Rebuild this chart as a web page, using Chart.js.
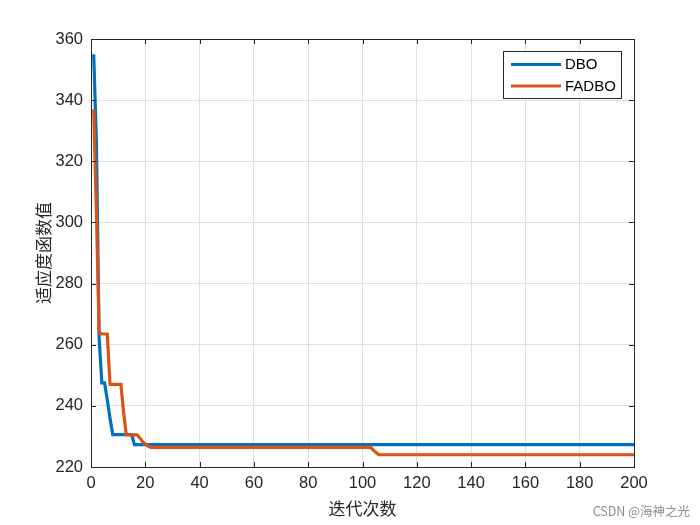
<!DOCTYPE html>
<html>
<head>
<meta charset="utf-8">
<script src="https://cdn.jsdelivr.net/npm/chart.js@4/dist/chart.umd.min.js"></script>
<style>
html,body{margin:0;padding:0;background:#ffffff;}
#wrap{width:700px;height:525px;position:relative;}
</style>
</head>
<body>
<div id="wrap"><canvas id="c" width="700" height="525"></canvas></div>
<script>
// ---- data ----
const seriesNames = ["DBO", "FADBO"];
const xTicks = [0, 20, 40, 60, 80, 100, 120, 140, 160, 180, 200];
const yTicks = [220, 240, 260, 280, 300, 320, 340, 360];
const xTitle = "迭代次数";
const yTitle = "适应度函数值";
const watermark = "CSDN @海神之光";

const dboValues = [
  355, 326, 262, 247.5, 247.5, 242, 236, 230.6, 230.6, 230.6,
  230.6, 230.6, 230.6, 230.6, 230.6, 227.3, 227.3, 227.3, 227.3, 227.3,
  227.3, 227.3, 227.3, 227.3, 227.3, 227.3, 227.3, 227.3, 227.3, 227.3,
  227.3, 227.3, 227.3, 227.3, 227.3, 227.3, 227.3, 227.3, 227.3, 227.3,
  227.3, 227.3, 227.3, 227.3, 227.3, 227.3, 227.3, 227.3, 227.3, 227.3,
  227.3, 227.3, 227.3, 227.3, 227.3, 227.3, 227.3, 227.3, 227.3, 227.3,
  227.3, 227.3, 227.3, 227.3, 227.3, 227.3, 227.3, 227.3, 227.3, 227.3,
  227.3, 227.3, 227.3, 227.3, 227.3, 227.3, 227.3, 227.3, 227.3, 227.3,
  227.3, 227.3, 227.3, 227.3, 227.3, 227.3, 227.3, 227.3, 227.3, 227.3,
  227.3, 227.3, 227.3, 227.3, 227.3, 227.3, 227.3, 227.3, 227.3, 227.3,
  227.3, 227.3, 227.3, 227.3, 227.3, 227.3, 227.3, 227.3, 227.3, 227.3,
  227.3, 227.3, 227.3, 227.3, 227.3, 227.3, 227.3, 227.3, 227.3, 227.3,
  227.3, 227.3, 227.3, 227.3, 227.3, 227.3, 227.3, 227.3, 227.3, 227.3,
  227.3, 227.3, 227.3, 227.3, 227.3, 227.3, 227.3, 227.3, 227.3, 227.3,
  227.3, 227.3, 227.3, 227.3, 227.3, 227.3, 227.3, 227.3, 227.3, 227.3,
  227.3, 227.3, 227.3, 227.3, 227.3, 227.3, 227.3, 227.3, 227.3, 227.3,
  227.3, 227.3, 227.3, 227.3, 227.3, 227.3, 227.3, 227.3, 227.3, 227.3,
  227.3, 227.3, 227.3, 227.3, 227.3, 227.3, 227.3, 227.3, 227.3, 227.3,
  227.3, 227.3, 227.3, 227.3, 227.3, 227.3, 227.3, 227.3, 227.3, 227.3,
  227.3, 227.3, 227.3, 227.3, 227.3, 227.3, 227.3, 227.3, 227.3, 227.3
];

const fadboValues = [
  337, 303, 264, 263.5, 263.5, 263.5, 247, 247, 247, 247,
  247, 238, 230.5, 230.5, 230.5, 230.5, 230.5, 229.5, 228.3, 227.5,
  226.8, 226.4, 226.4, 226.4, 226.4, 226.4, 226.4, 226.4, 226.4, 226.4,
  226.4, 226.4, 226.4, 226.4, 226.4, 226.4, 226.4, 226.4, 226.4, 226.4,
  226.4, 226.4, 226.4, 226.4, 226.4, 226.4, 226.4, 226.4, 226.4, 226.4,
  226.4, 226.4, 226.4, 226.4, 226.4, 226.4, 226.4, 226.4, 226.4, 226.4,
  226.4, 226.4, 226.4, 226.4, 226.4, 226.4, 226.4, 226.4, 226.4, 226.4,
  226.4, 226.4, 226.4, 226.4, 226.4, 226.4, 226.4, 226.4, 226.4, 226.4,
  226.4, 226.4, 226.4, 226.4, 226.4, 226.4, 226.4, 226.4, 226.4, 226.4,
  226.4, 226.4, 226.4, 226.4, 226.4, 226.4, 226.4, 226.4, 226.4, 226.4,
  226.4, 226.4, 226.4, 225.5, 224.7, 224, 224, 224, 224, 224,
  224, 224, 224, 224, 224, 224, 224, 224, 224, 224,
  224, 224, 224, 224, 224, 224, 224, 224, 224, 224,
  224, 224, 224, 224, 224, 224, 224, 224, 224, 224,
  224, 224, 224, 224, 224, 224, 224, 224, 224, 224,
  224, 224, 224, 224, 224, 224, 224, 224, 224, 224,
  224, 224, 224, 224, 224, 224, 224, 224, 224, 224,
  224, 224, 224, 224, 224, 224, 224, 224, 224, 224,
  224, 224, 224, 224, 224, 224, 224, 224, 224, 224,
  224, 224, 224, 224, 224, 224, 224, 224, 224, 224
];

// iteration index (1..N) for each value
const iterations = dboValues.map((_, i) => i + 1);

// ---- styles ----
const colors = ["#0072BD", "#D95319"];
const axisColor = "#262626";
const gridColor = "#dfdfdf";
const tickFont = { family: "'Liberation Sans', Arial, sans-serif", size: 16.5 };
const cjkFont = "'Noto Sans CJK SC', sans-serif";

const toPoints = vals => vals.map((v, i) => ({ x: iterations[i], y: v }));

const boxPlugin = {
  id: "box",
  afterDraw(chart) {
    const { ctx, chartArea: a, scales } = chart;
    ctx.save();
    // inward ticks on all four sides
    ctx.strokeStyle = axisColor;
    ctx.lineWidth = 1;
    const tl = 5;
    ctx.beginPath();
    xTicks.forEach(v => {
      const px = Math.round(scales.x.getPixelForValue(v)) + 0.5;
      ctx.moveTo(px, a.bottom); ctx.lineTo(px, a.bottom - tl);
      ctx.moveTo(px, a.top); ctx.lineTo(px, a.top + tl);
    });
    yTicks.forEach(v => {
      const py = Math.round(scales.y.getPixelForValue(v)) + 0.5;
      ctx.moveTo(a.left, py); ctx.lineTo(a.left + tl, py);
      ctx.moveTo(a.right, py); ctx.lineTo(a.right - tl, py);
    });
    ctx.stroke();
    // box
    ctx.strokeRect(Math.round(a.left) + 0.5, Math.round(a.top) + 0.5,
                   Math.round(a.right - a.left), Math.round(a.bottom - a.top));

    // legend
    const lx = 503.5, ly = 51.5, lw = 118, lh = 47;
    ctx.fillStyle = "#ffffff";
    ctx.fillRect(lx, ly, lw, lh);
    ctx.strokeStyle = axisColor;
    ctx.lineWidth = 1;
    ctx.strokeRect(lx, ly, lw, lh);
    const rows = [64.5, 86];
    ctx.font = "15px 'Liberation Sans', Arial, sans-serif";
    ctx.textBaseline = "middle";
    ctx.textAlign = "left";
    chart.data.datasets.forEach((ds, i) => {
      ctx.strokeStyle = ds.borderColor;
      ctx.lineWidth = 3.2;
      ctx.beginPath();
      ctx.moveTo(511, rows[i]); ctx.lineTo(561, rows[i]);
      ctx.stroke();
      ctx.fillStyle = "#000000";
      ctx.fillText(ds.label, 565, rows[i] + 0.5);
    });

    // watermark
    ctx.font = "12.5px " + cjkFont;
    ctx.fillStyle = "#8c8c8c";
    ctx.textAlign = "right";
    ctx.fillText(watermark, 690, 511);
    ctx.restore();
  }
};

new Chart(document.getElementById("c"), {
  type: "line",
  data: {
    datasets: [
      { label: seriesNames[0], data: toPoints(dboValues), borderColor: colors[0],
        backgroundColor: colors[0], borderWidth: 3.2, pointRadius: 0, tension: 0, order: 1 },
      { label: seriesNames[1], data: toPoints(fadboValues), borderColor: colors[1],
        backgroundColor: colors[1], borderWidth: 3.2, pointRadius: 0, tension: 0, order: 0 }
    ]
  },
  options: {
    responsive: false,
    devicePixelRatio: 1,
    animation: false,
    layout: { padding: { left: 0, top: 39, right: 66, bottom: 0 } },
    plugins: { legend: { display: false }, tooltip: { enabled: false } },
    scales: {
      x: {
        type: "linear", min: 0, max: 200,
        afterBuildTicks: s => { s.ticks = xTicks.map(v => ({ value: v })); },
        afterFit: s => { s.height = 58; },
        ticks: { font: tickFont, color: axisColor, padding: 7, maxRotation: 0, autoSkip: false },
        grid: { color: gridColor, drawTicks: false, lineWidth: 1 },
        border: { display: false },
        title: { display: true, text: xTitle, color: axisColor,
                 font: { family: cjkFont, size: 17 }, padding: { top: 0, bottom: 6 } }
      },
      y: {
        type: "linear", min: 220, max: 360,
        afterBuildTicks: s => { s.ticks = yTicks.map(v => ({ value: v })); },
        afterFit: s => { s.width = 91; },
        ticks: { font: tickFont, color: axisColor, padding: 8, autoSkip: false },
        grid: { color: gridColor, drawTicks: false, lineWidth: 1 },
        border: { display: false },
        title: { display: true, text: yTitle, color: axisColor,
                 font: { family: cjkFont, size: 17 }, padding: { top: 33, bottom: 0 } }
      }
    }
  },
  plugins: [boxPlugin]
});
</script>
</body>
</html>
